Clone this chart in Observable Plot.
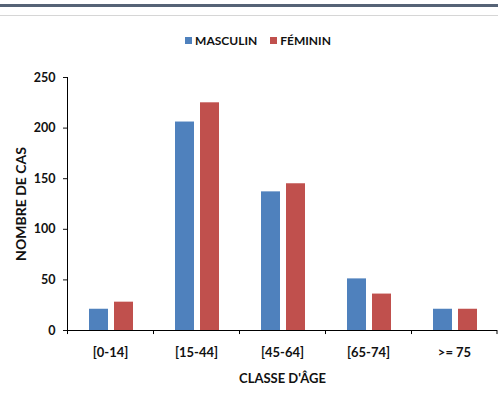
<!DOCTYPE html>
<html>
<head>
<meta charset="utf-8">
<script src="https://cdn.jsdelivr.net/npm/d3@7"></script>
<script src="https://cdn.jsdelivr.net/npm/@observablehq/plot@0.6"></script>
<style>
  html, body { margin: 0; padding: 0; background: #fff; }
  body { width: 498px; height: 404px; position: relative; overflow: hidden; font-family: Lato, "Open Sans", sans-serif; }
  .topline { position: absolute; left: 0; width: 498px; top: 4px; height: 3px; background: #566376; }
  .subline { position: absolute; left: 0; width: 498px; top: 15px; height: 1px; background: #d6d6d6; }
  .legend { position: absolute; top: 33px; left: 0; width: 516px; display: flex; justify-content: center; gap: 13px; font-weight: 700; font-size: 12px; color: #111; }
  .legend span { display: flex; align-items: center; }
  .legend i { display: inline-block; width: 7px; height: 7px; margin-right: 3px; }
  #chart { position: absolute; left: 0; top: 55px; }
</style>
</head>
<body>
<div class="topline"></div>
<div class="subline"></div>
<div class="legend" id="legend"></div>
<div id="chart"></div>
<script>
const categories = ["[0-14]", "[15-44]", "[45-64]", "[65-74]", ">= 75"];
const series = ["MASCULIN", "FÉMININ"];
const masculin = [21, 206, 137, 51, 21];
const feminin = [28, 225, 145, 36, 21];
const colors = ["#4F81BD", "#C0504D"];
const yTicks = [0, 50, 100, 150, 200, 250];

const data = categories.flatMap((c, i) => [
  {cat: c, sex: series[0], value: masculin[i]},
  {cat: c, sex: series[1], value: feminin[i]}
]);

// legend
const legend = document.getElementById("legend");
series.forEach((s, i) => {
  const span = document.createElement("span");
  const sw = document.createElement("i");
  sw.style.background = colors[i];
  span.appendChild(sw);
  span.appendChild(document.createTextNode(s));
  legend.appendChild(span);
});

const font = "Lato, 'Open Sans', sans-serif";
const chart = Plot.plot({
  width: 498,
  height: 335,
  marginLeft: 67,
  marginRight: 1,
  marginTop: 22,
  marginBottom: 60,
  style: {fontFamily: font, fontSize: "13px", fontWeight: 700, color: "#111", background: "#fff"},
  x: {domain: categories, padding: 0},
  y: {domain: [0, 250]},
  marks: [
    Plot.barY(data.filter(d => d.sex === series[0]), {x: "cat", y: "value", fill: colors[0], insetLeft: 22, insetRight: 45}),
    Plot.barY(data.filter(d => d.sex === series[1]), {x: "cat", y: "value", fill: colors[1], insetLeft: 47, insetRight: 20}),
    Plot.ruleY([0], {stroke: "#000", strokeWidth: 1.2}),
    Plot.ruleX(categories, {x: d => d, dx: -43, y1: 0, y2: -4, stroke: "#000"}),
    Plot.ruleX(categories.slice(-1), {x: d => d, dx: 42.5, y1: 0, y2: -4, stroke: "#000"}),
    Plot.ruleX(categories.slice(0, 1), {x: d => d, dx: -43, y1: -3, y2: 250, stroke: "#000"}),
    Plot.axisY({ticks: yTicks, tickSize: 4, tickPadding: 8, fontSize: 12.5, label: null}),
    Plot.axisY({ticks: [], tickSize: 0, label: "NOMBRE DE CAS", labelAnchor: "center", labelArrow: "none", labelOffset: 51, fontSize: 14, wordSpacing: "3px"}),
    Plot.axisX({tickSize: 0, tickPadding: 17, label: "CLASSE D'ÂGE", labelAnchor: "center", labelArrow: "none", labelOffset: 52, fontSize: 13})
  ]
});
document.getElementById("chart").appendChild(chart);
</script>
</body>
</html>
